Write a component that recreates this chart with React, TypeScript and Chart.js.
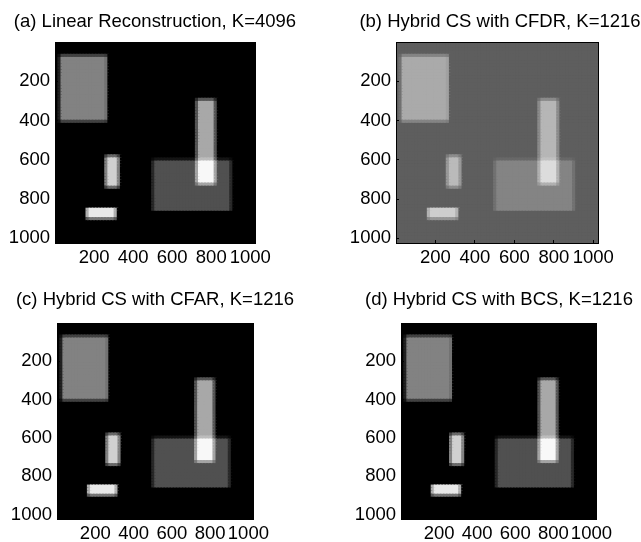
import { useEffect, useRef } from 'react';
import { Chart, registerables } from 'chart.js';

Chart.register(...registerables);

// ---------- data ----------
const panelTitles = [
  '(a) Linear Reconstruction, K=4096',
  '(b) Hybrid CS with CFDR, K=1216',
  '(c) Hybrid CS with CFAR, K=1216',
  '(d) Hybrid CS with BCS, K=1216',
];
const tickValues = [200, 400, 600, 800, 1000];
const tickLabels = ['200', '400', '600', '800', '1000'];
const gridSize = 64;
const extent = 1024;

// rectangular targets of the scene (image units)
const rectX0 = [28, 728, 504, 262, 164];
const rectX1 = [270, 824, 904, 330, 316];
const rectY0 = [72, 296, 604, 584, 848];
const rectY1 = [408, 728, 864, 744, 904];

// gray level each target adds, per panel
const levelsA = [130, 168, 80, 208, 232];
const levelsB = [76, 88, 38, 92, 112];
const levelsC = [130, 168, 80, 208, 232];
const levelsD = [130, 168, 80, 208, 232];
const backgroundLevels = [0, 94, 0, 0];
const panelLevels = [levelsA, levelsB, levelsC, levelsD];

// ---------- layout ----------
const panelLayout = [
  { boxLeft: 55, boxTop: 42, boxW: 200, boxH: 201, titleX: 155, titleY: 22, canvasTop: 0 },
  { boxLeft: 396, boxTop: 42, boxW: 202, boxH: 201, titleX: 500, titleY: 22, canvasTop: 0 },
  { boxLeft: 57, boxTop: 323, boxW: 196, boxH: 196, titleX: 155, titleY: 300, canvasTop: 271 },
  { boxLeft: 401, boxTop: 323, boxW: 195, boxH: 196, titleX: 499, titleY: 300, canvasTop: 271 },
];
const CANVAS_W = 320;
const CANVAS_H = 290;
const FONT_SIZE = 18.5;
const FONT_FAMILY = '"Liberation Sans", Arial, Helvetica, sans-serif';

function buildImage(bg: number, levels: number[]) {
  const cell = extent / gridSize;
  const points: { x: number; y: number }[] = [];
  const colors: string[] = [];
  for (let r = 0; r < gridSize; r++) {
    for (let c = 0; c < gridSize; c++) {
      const cx0 = c * cell, cx1 = cx0 + cell, cy0 = r * cell, cy1 = cy0 + cell;
      let v = bg;
      for (let k = 0; k < rectX0.length; k++) {
        const ox = Math.max(0, Math.min(cx1, rectX1[k]) - Math.max(cx0, rectX0[k]));
        const oy = Math.max(0, Math.min(cy1, rectY1[k]) - Math.max(cy0, rectY0[k]));
        v += (levels[k] * ox * oy) / (cell * cell);
      }
      v = Math.round(Math.max(0, Math.min(255, v)));
      points.push({ x: cx0 + cell / 2, y: cy0 + cell / 2 });
      colors.push(`rgb(${v},${v},${v})`);
    }
  }
  return { points, colors };
}

function makeConfig(index: number): any {
  const g = panelLayout[index];
  const canvasLeft = g.titleX - CANVAS_W / 2;
  const yAxisW = g.boxLeft - canvasLeft;
  const rightGap = canvasLeft + CANVAS_W - (g.boxLeft + g.boxW);
  const xAxisH = g.canvasTop + CANVAS_H - (g.boxTop + g.boxH);
  const lineH = FONT_SIZE * 1.2;
  const titlePadTop = g.titleY - g.canvasTop - lineH / 2;
  const titlePadBottom = g.boxTop - g.canvasTop - titlePadTop - lineH;
  const { points, colors } = buildImage(backgroundLevels[index], panelLevels[index]);
  const cell = extent / gridSize;
  const font = { family: FONT_FAMILY, size: FONT_SIZE };
  const labelFor = (v: number) => {
    const i = tickValues.indexOf(v);
    return i >= 0 ? tickLabels[i] : '';
  };

  return {
    type: 'scatter',
    data: {
      datasets: [
        {
          data: points,
          backgroundColor: colors,
          pointBackgroundColor: colors,
          pointBorderWidth: 0,
          pointStyle: 'rect',
          pointRadius: (ctx: any) => {
            const { x, y } = ctx.chart.scales;
            const hx = Math.abs(x.getPixelForValue(cell) - x.getPixelForValue(0)) / 2;
            const hy = Math.abs(y.getPixelForValue(cell) - y.getPixelForValue(0)) / 2;
            return (Math.max(hx, hy) + 0.75) * Math.SQRT2;
          },
          pointHoverRadius: 0,
          clip: 0,
        },
      ],
    },
    options: {
      animation: false,
      responsive: false,
      events: [],
      layout: { padding: 0 },
      plugins: {
        legend: { display: false },
        tooltip: { enabled: false },
        title: {
          display: true,
          text: panelTitles[index],
          color: '#000',
          font: { ...font, weight: 'normal' },
          padding: { top: titlePadTop, bottom: titlePadBottom },
        },
      },
      scales: {
        x: {
          type: 'linear',
          position: 'bottom',
          min: 0,
          max: extent,
          afterBuildTicks: (axis: any) => {
            axis.ticks = tickValues.map((v) => ({ value: v }));
          },
          afterFit: (axis: any) => {
            axis.height = xAxisH;
            axis.paddingLeft = 0;
            axis.paddingRight = 0;
          },
          ticks: { color: '#000', font, padding: 7, maxRotation: 0, autoSkip: false, callback: labelFor },
          grid: { display: true, drawOnChartArea: false, drawTicks: true, tickLength: -3, color: '#000', z: 1 },
          border: { display: true, color: '#000', width: 1, z: 1 },
        },
        y: {
          type: 'linear',
          position: 'left',
          min: 0,
          max: extent,
          reverse: true,
          afterBuildTicks: (axis: any) => {
            axis.ticks = tickValues.map((v) => ({ value: v }));
          },
          afterFit: (axis: any) => {
            axis.width = yAxisW;
            axis.paddingTop = 0;
            axis.paddingBottom = 0;
          },
          ticks: { color: '#000', font, padding: 8, autoSkip: false, callback: labelFor },
          grid: { display: true, drawOnChartArea: false, drawTicks: true, tickLength: -3, color: '#000', z: 1 },
          border: { display: true, color: '#000', width: 1, z: 1 },
        },
        x2: {
          type: 'linear',
          position: 'top',
          min: 0,
          max: extent,
          afterBuildTicks: (axis: any) => {
            axis.ticks = [];
          },
          afterFit: (axis: any) => {
            axis.height = 0;
            axis.paddingLeft = 0;
            axis.paddingRight = 0;
          },
          ticks: { display: false },
          grid: { display: false },
          border: { display: true, color: '#000', width: 1, z: 1 },
        },
        y2: {
          type: 'linear',
          position: 'right',
          min: 0,
          max: extent,
          afterBuildTicks: (axis: any) => {
            axis.ticks = [];
          },
          afterFit: (axis: any) => {
            axis.width = rightGap;
            axis.paddingTop = 0;
            axis.paddingBottom = 0;
          },
          ticks: { display: false },
          grid: { display: false },
          border: { display: true, color: '#000', width: 1, z: 1 },
        },
      },
    },
  };
}

function Panel({ index }: { index: number }) {
  const ref = useRef<HTMLCanvasElement>(null);
  useEffect(() => {
    if (!ref.current) return;
    const chart = new Chart(ref.current, makeConfig(index));
    return () => chart.destroy();
  }, [index]);
  const g = panelLayout[index];
  const left = g.titleX - CANVAS_W / 2;
  return (
    <canvas
      ref={ref}
      width={CANVAS_W}
      height={CANVAS_H}
      style={{ position: 'absolute', left, top: g.canvasTop, width: CANVAS_W, height: CANVAS_H }}
    />
  );
}

export default function App() {
  return (
    <div
      style={{
        position: 'absolute',
        left: 0,
        top: 0,
        width: 641,
        height: 542,
        overflow: 'hidden',
        background: '#fff',
      }}
    >
      {panelTitles.map((_, i) => (
        <Panel key={i} index={i} />
      ))}
    </div>
  );
}
